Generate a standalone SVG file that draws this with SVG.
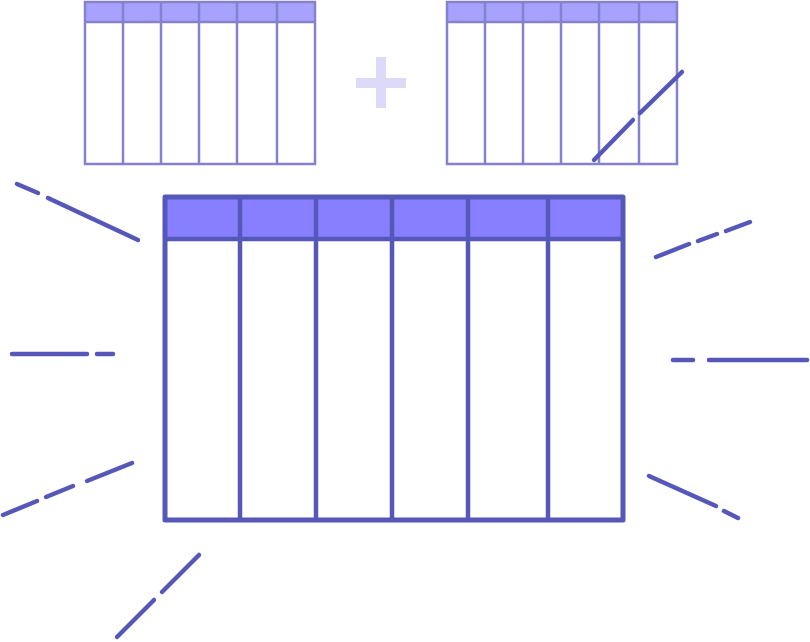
<svg xmlns="http://www.w3.org/2000/svg" width="810" height="642" viewBox="0 0 810 642">
<style>
.small rect.hdr{fill:#a7a2ff;stroke:none}
.small .frame{fill:none;stroke:#8482cc;stroke-width:2.5}
.small line{stroke:#8482cc;stroke-width:2.5}
.main .hdr{fill:#877fff;stroke:none}
.main .frame{fill:none;stroke:#5658b9;stroke-width:5;stroke-linejoin:round}
.main line{stroke:#5658b9;stroke-width:4.5}
.ray line{stroke:#5658b9;stroke-width:4.5;stroke-linecap:round}
.plus{fill:#dcdaf8}
</style>
<rect width="810" height="642" fill="#ffffff"/>
<g id="table-a" class="small">
<rect class="hdr" x="85" y="2" width="230" height="20"/>
<rect class="frame" x="85" y="2" width="230" height="162"/>
<line x1="85" y1="22" x2="315" y2="22"/>
<line x1="123" y1="2" x2="123" y2="164"/>
<line x1="161" y1="2" x2="161" y2="164"/>
<line x1="199" y1="2" x2="199" y2="164"/>
<line x1="237" y1="2" x2="237" y2="164"/>
<line x1="277" y1="2" x2="277" y2="164"/>
</g>
<g id="plus">
<rect class="plus" x="376" y="57" width="10" height="51"/>
<rect class="plus" x="356" y="78" width="50" height="10"/>
</g>
<g id="table-b" class="small">
<rect class="hdr" x="447" y="2" width="230" height="20"/>
<rect class="frame" x="447" y="2" width="230" height="162"/>
<line x1="447" y1="22" x2="677" y2="22"/>
<line x1="485" y1="2" x2="485" y2="164"/>
<line x1="523" y1="2" x2="523" y2="164"/>
<line x1="561" y1="2" x2="561" y2="164"/>
<line x1="599" y1="2" x2="599" y2="164"/>
<line x1="639" y1="2" x2="639" y2="164"/>
</g>
<g id="table-main" class="main">
<rect class="hdr" x="165" y="197" width="458" height="42"/>
<rect class="frame" x="165" y="197" width="458" height="323"/>
<line x1="165" y1="239" x2="623" y2="239"/>
<line x1="240" y1="197" x2="240" y2="520"/>
<line x1="316" y1="197" x2="316" y2="520"/>
<line x1="392" y1="197" x2="392" y2="520"/>
<line x1="468" y1="197" x2="468" y2="520"/>
<line x1="548" y1="197" x2="548" y2="520"/>
</g>
<g id="rays" class="ray">
<line x1="594" y1="160" x2="633" y2="120"/>
<line x1="640" y1="113" x2="682" y2="72"/>
<line x1="17" y1="184" x2="38" y2="193"/>
<line x1="48" y1="198" x2="138" y2="240"/>
<line x1="12" y1="354" x2="87" y2="354"/>
<line x1="97" y1="354" x2="113" y2="354"/>
<line x1="3" y1="515" x2="37" y2="501"/>
<line x1="46" y1="497" x2="73" y2="486"/>
<line x1="87" y1="481" x2="132" y2="463"/>
<line x1="199" y1="555" x2="162" y2="592"/>
<line x1="154" y1="600" x2="117" y2="637"/>
<line x1="656" y1="257" x2="689" y2="244"/>
<line x1="698" y1="241" x2="717" y2="234"/>
<line x1="726" y1="231" x2="750" y2="222"/>
<line x1="673" y1="360" x2="693" y2="360"/>
<line x1="709" y1="360" x2="807" y2="360"/>
<line x1="649" y1="476" x2="716" y2="506"/>
<line x1="724" y1="511" x2="738" y2="518"/>
</g>
</svg>
